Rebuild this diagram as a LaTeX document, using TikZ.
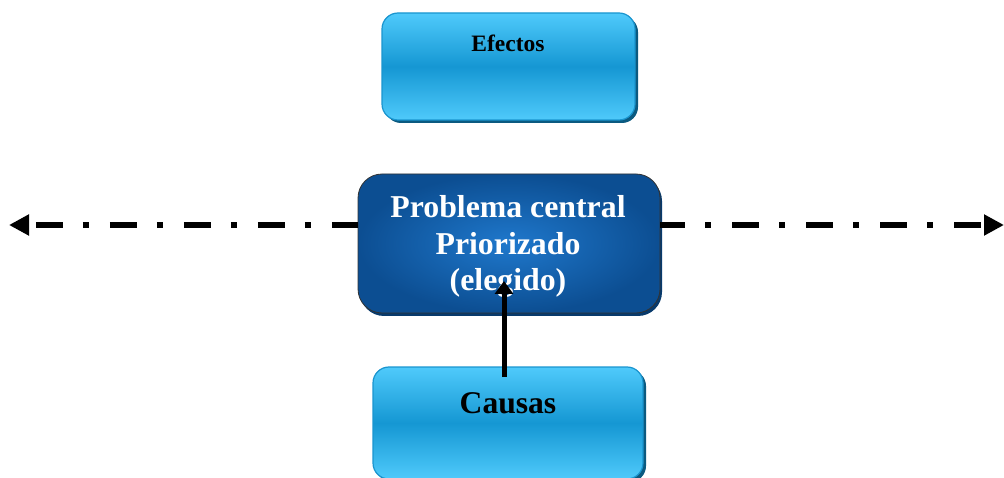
\documentclass[tikz,border=0pt]{standalone}
\usepackage{fontspec}
\setmainfont{Liberation Serif}
\usetikzlibrary{arrows.meta,shadows}
\definecolor{ltop}{HTML}{4FCAFB}
\definecolor{lmid}{HTML}{1597D3}
\definecolor{lborder}{HTML}{1A95CF}
\definecolor{lshadow}{HTML}{0B5A80}
\definecolor{dinner}{HTML}{1F78CC}
\definecolor{douter}{HTML}{0C4E92}
\definecolor{dshadow}{HTML}{083A6C}
\tikzset{
  lightbox/.style={draw=lborder, line width=1.2pt, rounded corners=16pt,
    top color=ltop, bottom color=ltop, middle color=lmid, inner sep=0pt,
    drop shadow={shadow xshift=3pt, shadow yshift=-3pt, fill=lshadow, opacity=1}},
  darkbox/.style={draw=black!80, line width=0.8pt, rounded corners=24pt,
    inner color=dinner, outer color=douter, inner sep=0pt,
    drop shadow={shadow xshift=2pt, shadow yshift=-3pt, fill=dshadow, opacity=1}},
  lbl/.style={font=\bfseries, anchor=base, inner sep=0pt},
  axisline/.style={line width=6pt, dash pattern=on 27pt off 20pt on 6pt off 21pt},
  lefttip/.style={{Triangle[length=20pt,width=20pt]}-},
  righttip/.style={-{Triangle[length=20pt,width=20pt]}},
  uparrow/.style={line width=5pt, -{Triangle[length=13pt,width=18pt]}}
}
\begin{document}
\begin{tikzpicture}[x=1pt,y=-1pt]
\useasboundingbox (0,0) rectangle (1004,478);
% boxes
\node[lightbox, minimum width=253pt, minimum height=107pt] (efectos) at (508.5,66.5) {};
\node[darkbox, minimum width=302pt, minimum height=139pt] (central) at (509,243.5) {};
\node[lightbox, minimum width=270pt, minimum height=112pt] (causas) at (508,423) {};
% horizontal axis
\coordinate (L) at (9,225);
\coordinate (R) at (1004,225);
\draw[axisline, dash phase=-8pt, lefttip] (L) -- (L -| central.west);
\draw[axisline, dash phase=2pt, righttip] (R -| central.east) -- (R);
% texts
\node[lbl, font=\fontsize{23.5}{27}\selectfont\bfseries] (tefectos) at (508,52) {Efectos};
\node[lbl, font=\fontsize{31.8}{36.5}\selectfont\bfseries, text=white] (t1) at (508,218) {Problema central};
\node[lbl, font=\fontsize{31.8}{36.5}\selectfont\bfseries, text=white] (t2) at (508,254.5) {Priorizado};
\node[lbl, font=\fontsize{31.8}{36.5}\selectfont\bfseries, text=white] (t3) at (508,291) {(elegido)};
\node[lbl, font=\fontsize{31.6}{36}\selectfont\bfseries] (tcausas) at (508,413) {Causas};
% arrow from causas to central
\coordinate (a0) at (504,377);
\coordinate (a1) at (504,281);
\draw[uparrow] (a0) -- (a1);
\end{tikzpicture}
\end{document}
